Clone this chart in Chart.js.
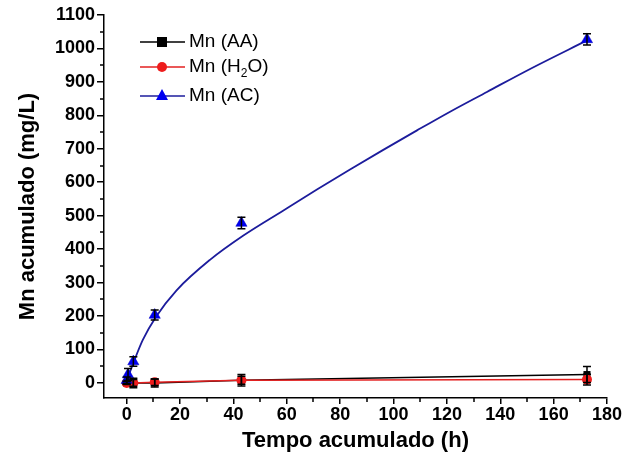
<!DOCTYPE html>
<html>
<head>
<meta charset="utf-8">
<script src="https://cdn.jsdelivr.net/npm/chart.js@4"></script>
<style>
  html, body { margin: 0; padding: 0; background: #fff; }
  #wrap { width: 633px; height: 470px; position: relative; }
</style>
</head>
<body>
<div id="wrap"><canvas id="mnChart"></canvas></div>
<script>
const timeAA = [0, 2.5, 10.5, 43, 172.5];
const mnAA = [0, 0, 0, 8, 25];
const errAA = [5, 14, 12, 17, 24];

const timeH2O = [0, 2.5, 10.5, 43, 172.5];
const mnH2O = [0, 0, 2, 8, 10];
const errH2O = [4, 10, 10, 12, 16];

const timeAC = [0, 0.5, 2.5, 10.5, 43, 172.5];
const mnAC = [8, 25, 64, 203, 478, 1027];
const errAC = [10, 18, 14, 15, 17, 17];

// blue fitted curve at a few times
const fitTime = [0.3, 1.2, 3.1, 6, 11, 18.7, 31.2, 43.6, 58.6, 71.3, 83.7, 96, 108.8, 121.2, 135, 151, 172.5];
const fitMn = [10, 32, 72, 128, 198, 277, 368, 440, 515, 578, 638, 696, 755, 811, 870, 938, 1024];

const xTicksMinor = [10, 30, 50, 70, 90, 110, 130, 150, 170];
const yTicksMinor = [50, 150, 250, 350, 450, 550, 650, 750, 850, 950, 1050];

function pts(xs, ys) {
    return xs.map((x, i) => ({ x: x, y: ys[i] }));
}

const errorBars = {
    id: 'errorBars',
    afterDatasetsDraw(chart) {
        const ctx = chart.ctx;
        const xs = chart.scales.x, ys = chart.scales.y;
        ctx.save();
        ctx.strokeStyle = '#000';
        ctx.lineWidth = 1.5;
        chart.data.datasets.forEach(ds => {
            if (!ds.err) return;
            ds.data.forEach((p, i) => {
                const px = xs.getPixelForValue(p.x);
                const top = ys.getPixelForValue(p.y + ds.err[i]);
                const bot = ys.getPixelForValue(p.y - ds.err[i]);
                ctx.beginPath();
                ctx.moveTo(px, top); ctx.lineTo(px, bot);
                ctx.moveTo(px - 4, top); ctx.lineTo(px + 4, top);
                ctx.moveTo(px - 4, bot); ctx.lineTo(px + 4, bot);
                ctx.stroke();
            });
        });
        ctx.restore();
    }
};

const minorTicks = {
    id: 'minorTicks',
    afterDraw(chart) {
        const ctx = chart.ctx;
        const xs = chart.scales.x, ys = chart.scales.y;
        const area = chart.chartArea;
        ctx.save();
        ctx.strokeStyle = '#000';
        ctx.lineWidth = 1.5;
        ctx.beginPath();
        xTicksMinor.forEach(v => {
            const px = Math.round(xs.getPixelForValue(v));
            ctx.moveTo(px, area.bottom); ctx.lineTo(px, area.bottom + 4);
        });
        yTicksMinor.forEach(v => {
            const py = Math.round(ys.getPixelForValue(v));
            ctx.moveTo(area.left, py); ctx.lineTo(area.left - 4, py);
        });
        ctx.stroke();
        ctx.restore();
    }
};

// legend: line + marker + label, drawn inside the plot
const plotLegend = {
    id: 'plotLegend',
    afterDraw(chart) {
        const ctx = chart.ctx;
        const rows = [
            { y: 42, color: '#000', marker: 'rect', mark: '#000', parts: [['Mn (AA)', 0]] },
            { y: 67, color: '#e32020', marker: 'circle', mark: '#ee1c1c', parts: [['Mn (H', 0], ['2', 1], ['O)', 0]] },
            { y: 96, color: '#1c1c9c', marker: 'triangle', mark: '#0000f0', parts: [['Mn (AC)', 0]] }
        ];
        ctx.save();
        rows.forEach(r => {
            ctx.strokeStyle = r.color;
            ctx.lineWidth = 1.5;
            ctx.beginPath();
            ctx.moveTo(140, r.y); ctx.lineTo(185, r.y);
            ctx.stroke();
            ctx.fillStyle = r.mark;
            ctx.beginPath();
            if (r.marker === 'rect') ctx.rect(157, r.y - 5, 10, 10);
            else if (r.marker === 'circle') ctx.arc(162, r.y, 5, 0, Math.PI * 2);
            else { ctx.moveTo(162, r.y - 7); ctx.lineTo(168, r.y + 4); ctx.lineTo(156, r.y + 4); ctx.closePath(); }
            ctx.fill();
            ctx.fillStyle = '#000';
            ctx.textBaseline = 'middle';
            let x = 189;
            r.parts.forEach(([t, sub]) => {
                ctx.font = sub ? '12px "Liberation Sans", Arial, sans-serif' : '19px "Liberation Sans", Arial, sans-serif';
                ctx.fillText(t, x, sub ? r.y + 7 : r.y);
                x += ctx.measureText(t).width;
            });
        });
        ctx.restore();
    }
};

const tickFont = { family: '"Liberation Sans", Arial, sans-serif', size: 18, weight: 'bold' };
const titleFont = { family: '"Liberation Sans", Arial, sans-serif', size: 22, weight: 'bold' };

new Chart(document.getElementById('mnChart'), {
    type: 'scatter',
    data: {
        datasets: [
            {
                label: 'Mn (AC) fit',
                data: pts(fitTime, fitMn),
                showLine: true,
                borderColor: '#1c1c9c',
                borderWidth: 1.8,
                pointRadius: 0,
                cubicInterpolationMode: 'monotone',
                order: 4
            },
            {
                label: 'Mn (AA)',
                data: pts(timeAA, mnAA),
                err: errAA,
                showLine: true,
                borderColor: '#000',
                borderWidth: 1.5,
                backgroundColor: '#000',
                pointStyle: 'rect',
                pointRadius: 5,
                pointBorderWidth: 0,
                order: 3
            },
            {
                label: 'Mn (H2O)',
                data: pts(timeH2O, mnH2O),
                err: errH2O,
                showLine: true,
                borderColor: '#e32020',
                borderWidth: 1.5,
                backgroundColor: '#ee1c1c',
                pointStyle: 'circle',
                pointRadius: 5,
                pointBorderWidth: 0,
                order: 2
            },
            {
                label: 'Mn (AC)',
                data: pts(timeAC, mnAC),
                err: errAC,
                showLine: false,
                backgroundColor: '#0000f0',
                borderColor: '#0000c0',
                pointStyle: 'triangle',
                pointRadius: 6.5,
                pointBorderWidth: 0.5,
                order: 1
            }
        ]
    },
    options: {
        responsive: true,
        maintainAspectRatio: false,
        animation: false,
        layout: { padding: { top: 15, right: 26, left: 15, bottom: 16 } },
        plugins: {
            legend: { display: false },
            tooltip: { enabled: false }
        },
        scales: {
            x: {
                type: 'linear',
                min: -8.5,
                max: 180,
                afterFit: s => { s.height = 56; },
                ticks: { stepSize: 20, includeBounds: false, color: '#000', font: tickFont, padding: 0, maxRotation: 0, callback: v => String(v) },
                grid: { drawOnChartArea: false, drawTicks: true, tickLength: 6, color: '#000', lineWidth: 1.5 },
                border: { display: true, color: '#000', width: 1.5 },
                title: { display: true, text: 'Tempo acumulado (h)', color: '#000', font: titleFont, padding: { top: 4, bottom: 0 } }
            },
            y: {
                min: -45,
                max: 1100,
                afterFit: s => { s.width = 89; },
                ticks: { stepSize: 100, includeBounds: false, color: '#000', font: tickFont, padding: 2, callback: v => String(v) },
                grid: { drawOnChartArea: false, drawTicks: true, tickLength: 7, color: '#000', lineWidth: 1.5 },
                border: { display: true, color: '#000', width: 1.5 },
                title: { display: true, text: 'Mn acumulado (mg/L)', color: '#000', font: titleFont, padding: { top: 0, bottom: 0 } }
            }
        }
    },
    plugins: [errorBars, minorTicks, plotLegend]
});
</script>
</body>
</html>
